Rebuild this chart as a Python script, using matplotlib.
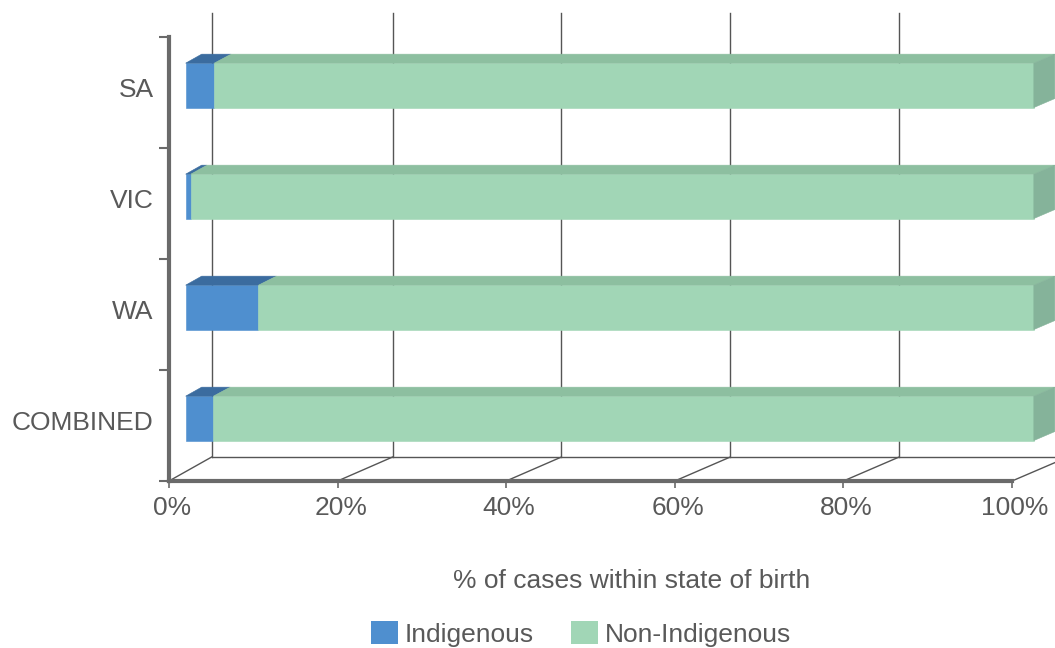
import numpy as np
import matplotlib
matplotlib.use("Agg")
import matplotlib.pyplot as plt
import matplotlib.transforms as mtransforms
from matplotlib.patches import Polygon, Patch

# ---- data -------------------------------------------------------------
categories = ["SA", "VIC", "WA", "COMBINED"]
indigenous = [3.3, 0.6, 8.4, 3.2]
non_indigenous = [96.7, 99.4, 91.6, 96.8]
x_ticks = [0, 20, 40, 60, 80, 100]
x_tick_labels = ["0%", "20%", "40%", "60%", "80%", "100%"]
series_names = ["Indigenous", "Non-Indigenous"]
x_title = "% of cases within state of birth"

# ---- style ------------------------------------------------------------
plt.rcParams["font.family"] = ["Liberation Sans", "DejaVu Sans"]
TEXT = "#595959"
AXIS = "#6a6a6a"
GRID = "#555555"
FONT = 19

# face colours: front, top, side
BLUE = ("#4f8fcf", "#3b6c9f", "#35628f")
GREEN = ("#a1d6b6", "#8dbfa0", "#85b39a")

W, H, DPI = 1055, 648, 100
fig = plt.figure(figsize=(W / DPI, H / DPI), dpi=DPI)

# front plane of the box (pixels)
left_px, right_px = 169, 1012
top_px, bottom_px = 37, 481
ax = fig.add_axes([left_px / W, 1 - bottom_px / H,
                   (right_px - left_px) / W, (bottom_px - top_px) / H])
n = len(categories)
ax.set_xlim(0, 100)
ax.set_ylim(n - 0.5, -0.5)

px_per_pct = (right_px - left_px) / 100.0
px_per_cat = (bottom_px - top_px) / n

# oblique depth projection (depth z from 0 = front to 1 = back wall)
def depth_dx(p):
    return np.interp(p, [0, 20, 100], [42.7, 55.0, 56.0]) / px_per_pct

depth_dy = -24.0 / px_per_cat


def proj(p, y, z):
    return (p + z * depth_dx(p), y + z * depth_dy)


# back wall gridlines
for p in x_ticks:
    xa, ya = proj(p, -0.5, 1.0)
    xb, yb = proj(p, n - 0.5, 1.0)
    ax.plot([xa, xb], [ya, yb], color=GRID, lw=1.0, clip_on=False, zorder=1)

# floor: back edge and depth lines
xa, ya = proj(0, n - 0.5, 1.0)
xb, yb = proj(110, n - 0.5, 1.0)
ax.plot([xa, xb], [ya, yb], color=GRID, lw=1.0, clip_on=False, zorder=1)
for p in x_ticks:
    xa, ya = proj(p, n - 0.5, 0.0)
    xb, yb = proj(p, n - 0.5, 1.0)
    ax.plot([xa, xb], [ya, yb], color=GRID, lw=1.0, clip_on=False, zorder=1)

# bars
z0, z1 = 0.39, 0.765
half = 0.2
shift = 0.02


def box(a, b, c, colors, side):
    top, bot = c + shift - half, c + shift + half
    front = [proj(a, top, z0), proj(b, top, z0), proj(b, bot, z0), proj(a, bot, z0)]
    lid = [proj(a, top, z0), proj(b, top, z0), proj(b, top, z1), proj(a, top, z1)]
    faces = [(front, colors[0]), (lid, colors[1])]
    if side:
        right = [proj(b, top, z0), proj(b, bot, z0), proj(b, bot, z1), proj(b, top, z1)]
        faces.append((right, colors[2]))
    for pts, col in faces:
        ax.add_patch(Polygon(pts, closed=True, facecolor=col, edgecolor=col,
                             lw=0.4, clip_on=False, zorder=3))


for i, (v1, v2) in enumerate(zip(indigenous, non_indigenous)):
    box(0, v1, i, BLUE, False)
    box(v1, v1 + v2, i, GREEN, True)

# axes
for s in ("top", "right"):
    ax.spines[s].set_visible(False)
for s in ("left", "bottom"):
    ax.spines[s].set_color(AXIS)
    ax.spines[s].set_linewidth(3)
    ax.spines[s].set_zorder(4)

ax.set_xticks(x_ticks)
ax.set_xticklabels(x_tick_labels)
ax.tick_params(axis="x", direction="out", length=5, width=1.2, color=AXIS,
               pad=6, labelsize=FONT, labelcolor=TEXT)
x_nudge = mtransforms.ScaledTranslation(3 / DPI, 0, fig.dpi_scale_trans)
for lab in ax.get_xticklabels():
    lab.set_transform(lab.get_transform() + x_nudge)

ax.set_yticks(np.arange(n + 1) - 0.5)
ax.set_yticklabels([])
ax.set_yticks(np.arange(n), minor=True)
ax.set_yticklabels(categories, minor=True)
ax.tick_params(axis="y", which="major", direction="out", length=7.5, width=1.5,
               color=AXIS)
ax.tick_params(axis="y", which="minor", length=0, pad=11, labelsize=FONT,
               labelcolor=TEXT)
y_nudge = mtransforms.ScaledTranslation(0, 5 / DPI, fig.dpi_scale_trans)
for lab in ax.get_yticklabels(minor=True):
    lab.set_transform(lab.get_transform() + y_nudge)
ax.set_facecolor("none")

fig.text(632 / W, 1 - 581 / H, x_title, ha="center", va="center",
         fontsize=FONT, color=TEXT)

handles = [Patch(facecolor=BLUE[0], edgecolor="none"),
           Patch(facecolor=GREEN[0], edgecolor="none")]
fig.legend(handles, series_names, loc="center", bbox_to_anchor=(581 / W, 1 - 634 / H),
           ncol=2, frameon=False, fontsize=FONT, labelcolor=TEXT,
           handlelength=1.02, handleheight=0.95, handletextpad=0.27,
           columnspacing=1.4, borderpad=0)

fig.savefig("out.png", dpi=DPI)
